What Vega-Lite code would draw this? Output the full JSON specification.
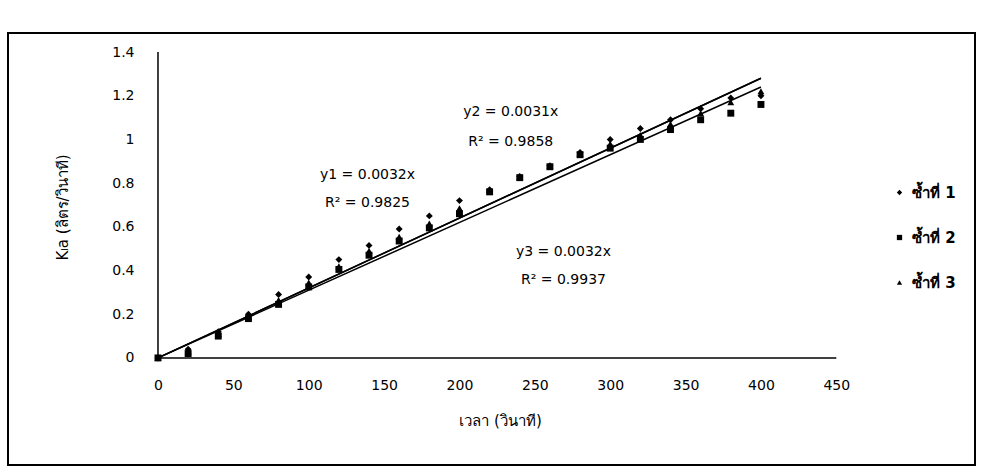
{
  "$schema": "https://vega.github.io/schema/vega-lite/v6.json",
  "width": 981,
  "height": 471,
  "autosize": {"type": "fit", "contains": "padding"},
  "padding": {"left": 8, "right": 6, "top": 33, "bottom": 6},
  "background": "white",
  "config": {
    "view": {"stroke": "black", "strokeWidth": 2},
    "font": "DejaVu Sans"
  },
  "datasets": {
    "points": [
      {"t": 0, "v": 0, "rep": "ซ้ำที่ 1"}, {"t": 20, "v": 0.04, "rep": "ซ้ำที่ 1"}, {"t": 40, "v": 0.12, "rep": "ซ้ำที่ 1"},
      {"t": 60, "v": 0.20, "rep": "ซ้ำที่ 1"}, {"t": 80, "v": 0.29, "rep": "ซ้ำที่ 1"}, {"t": 100, "v": 0.37, "rep": "ซ้ำที่ 1"},
      {"t": 120, "v": 0.45, "rep": "ซ้ำที่ 1"}, {"t": 140, "v": 0.515, "rep": "ซ้ำที่ 1"}, {"t": 160, "v": 0.59, "rep": "ซ้ำที่ 1"},
      {"t": 180, "v": 0.65, "rep": "ซ้ำที่ 1"}, {"t": 200, "v": 0.72, "rep": "ซ้ำที่ 1"}, {"t": 220, "v": 0.77, "rep": "ซ้ำที่ 1"},
      {"t": 240, "v": 0.83, "rep": "ซ้ำที่ 1"}, {"t": 260, "v": 0.88, "rep": "ซ้ำที่ 1"}, {"t": 280, "v": 0.94, "rep": "ซ้ำที่ 1"},
      {"t": 300, "v": 1.0, "rep": "ซ้ำที่ 1"}, {"t": 320, "v": 1.05, "rep": "ซ้ำที่ 1"}, {"t": 340, "v": 1.09, "rep": "ซ้ำที่ 1"},
      {"t": 360, "v": 1.14, "rep": "ซ้ำที่ 1"}, {"t": 380, "v": 1.19, "rep": "ซ้ำที่ 1"}, {"t": 400, "v": 1.20, "rep": "ซ้ำที่ 1"},
      {"t": 0, "v": 0, "rep": "ซ้ำที่ 2"}, {"t": 20, "v": 0.02, "rep": "ซ้ำที่ 2"}, {"t": 40, "v": 0.10, "rep": "ซ้ำที่ 2"},
      {"t": 60, "v": 0.18, "rep": "ซ้ำที่ 2"}, {"t": 80, "v": 0.245, "rep": "ซ้ำที่ 2"}, {"t": 100, "v": 0.325, "rep": "ซ้ำที่ 2"},
      {"t": 120, "v": 0.405, "rep": "ซ้ำที่ 2"}, {"t": 140, "v": 0.47, "rep": "ซ้ำที่ 2"}, {"t": 160, "v": 0.535, "rep": "ซ้ำที่ 2"},
      {"t": 180, "v": 0.595, "rep": "ซ้ำที่ 2"}, {"t": 200, "v": 0.66, "rep": "ซ้ำที่ 2"}, {"t": 220, "v": 0.76, "rep": "ซ้ำที่ 2"},
      {"t": 240, "v": 0.825, "rep": "ซ้ำที่ 2"}, {"t": 260, "v": 0.875, "rep": "ซ้ำที่ 2"}, {"t": 280, "v": 0.93, "rep": "ซ้ำที่ 2"},
      {"t": 300, "v": 0.96, "rep": "ซ้ำที่ 2"}, {"t": 320, "v": 1.0, "rep": "ซ้ำที่ 2"}, {"t": 340, "v": 1.045, "rep": "ซ้ำที่ 2"},
      {"t": 360, "v": 1.09, "rep": "ซ้ำที่ 2"}, {"t": 380, "v": 1.12, "rep": "ซ้ำที่ 2"}, {"t": 400, "v": 1.16, "rep": "ซ้ำที่ 2"},
      {"t": 0, "v": 0, "rep": "ซ้ำที่ 3"}, {"t": 20, "v": 0.03, "rep": "ซ้ำที่ 3"}, {"t": 40, "v": 0.11, "rep": "ซ้ำที่ 3"},
      {"t": 60, "v": 0.19, "rep": "ซ้ำที่ 3"}, {"t": 80, "v": 0.265, "rep": "ซ้ำที่ 3"}, {"t": 100, "v": 0.345, "rep": "ซ้ำที่ 3"},
      {"t": 120, "v": 0.42, "rep": "ซ้ำที่ 3"}, {"t": 140, "v": 0.49, "rep": "ซ้ำที่ 3"}, {"t": 160, "v": 0.555, "rep": "ซ้ำที่ 3"},
      {"t": 180, "v": 0.615, "rep": "ซ้ำที่ 3"}, {"t": 200, "v": 0.685, "rep": "ซ้ำที่ 3"}, {"t": 220, "v": 0.77, "rep": "ซ้ำที่ 3"},
      {"t": 240, "v": 0.83, "rep": "ซ้ำที่ 3"}, {"t": 260, "v": 0.88, "rep": "ซ้ำที่ 3"}, {"t": 280, "v": 0.935, "rep": "ซ้ำที่ 3"},
      {"t": 300, "v": 0.98, "rep": "ซ้ำที่ 3"}, {"t": 320, "v": 1.02, "rep": "ซ้ำที่ 3"}, {"t": 340, "v": 1.07, "rep": "ซ้ำที่ 3"},
      {"t": 360, "v": 1.12, "rep": "ซ้ำที่ 3"}, {"t": 380, "v": 1.17, "rep": "ซ้ำที่ 3"}, {"t": 400, "v": 1.22, "rep": "ซ้ำที่ 3"}
    ],
    "trend": [
      {"fit": "y1", "t": 0, "v": 0}, {"fit": "y1", "t": 400, "v": 1.28},
      {"fit": "y2", "t": 0, "v": 0}, {"fit": "y2", "t": 400, "v": 1.24},
      {"fit": "y3", "t": 0, "v": 0}, {"fit": "y3", "t": 400, "v": 1.28}
    ],
    "axes": [
      {"t0": 0, "v0": 0, "t1": 450, "v1": 0},
      {"t0": 0, "v0": 0, "t1": 0, "v1": 1.4}
    ],
    "notes": [
      {"t": 139, "v": 0.839, "label": "y1 = 0.0032x"},
      {"t": 139, "v": 0.711, "label": "R² = 0.9825"},
      {"t": 234, "v": 1.124, "label": "y2 = 0.0031x"},
      {"t": 234, "v": 0.986, "label": "R² = 0.9858"},
      {"t": 269, "v": 0.486, "label": "y3 = 0.0032x"},
      {"t": 269, "v": 0.358, "label": "R² = 0.9937"}
    ]
  },
  "layer": [
    {
      "data": {"name": "trend"},
      "mark": {"type": "line", "color": "black", "strokeWidth": 1.5},
      "encoding": {
        "x": {
          "field": "t", "type": "quantitative",
          "scale": {"domain": [-99.5, 542], "nice": false, "zero": false},
          "axis": {
            "orient": "bottom", "offset": -90, "domain": false, "ticks": false, "grid": false,
            "values": [0, 50, 100, 150, 200, 250, 300, 350, 400, 450],
            "labelFontSize": 14, "labelColor": "black", "labelPadding": 3, "labelFont": "DejaVu Sans",
            "title": "เวลา (วินาที)", "titleFontSize": 15, "titleFontWeight": "normal", "titleColor": "black",
            "titleX": 492, "titleY": 45, "titleBaseline": "middle", "titleAlign": "center"
          }
        },
        "y": {
          "field": "v", "type": "quantitative",
          "scale": {"domain": [-0.49, 1.487], "nice": false, "zero": false},
          "axis": {
            "orient": "left", "offset": -129, "domain": false, "ticks": false, "grid": false,
            "values": [0, 0.2, 0.4, 0.6, 0.8, 1, 1.2, 1.4], "format": ".1~f",
            "labelFontSize": 14, "labelColor": "black", "labelPadding": 3, "labelFont": "DejaVu Sans",
            "title": "Kₗa (ลิตร/วินาที)", "titleFontSize": 15, "titleFontWeight": "normal", "titleColor": "black",
            "titleAngle": -90, "titleX": -75, "titleY": 174, "titleBaseline": "middle", "titleAlign": "center"
          }
        },
        "detail": {"field": "fit"}
      }
    },
    {
      "data": {"name": "axes"},
      "mark": {"type": "rule", "color": "black", "strokeWidth": 1.5},
      "encoding": {
        "x": {"field": "t0", "type": "quantitative"},
        "y": {"field": "v0", "type": "quantitative"},
        "x2": {"field": "t1"},
        "y2": {"field": "v1"}
      }
    },
    {
      "data": {"name": "points"},
      "mark": {"type": "point", "filled": true, "opacity": 1, "size": 48},
      "encoding": {
        "x": {"field": "t", "type": "quantitative"},
        "y": {"field": "v", "type": "quantitative"},
        "shape": {
          "field": "rep", "type": "nominal",
          "scale": {"domain": ["ซ้ำที่ 1", "ซ้ำที่ 2", "ซ้ำที่ 3"], "range": ["diamond", "square", "triangle-up"]},
          "legend": {
            "title": null, "orient": "none", "legendX": 884, "legendY": 152, "padding": 0,
            "labelFontSize": 15, "labelFontWeight": "bold", "labelColor": "black",
            "symbolSize": 28, "symbolFillColor": "black", "symbolStrokeWidth": 0, "symbolType": "circle",
            "rowPadding": 29, "labelOffset": 5
          }
        },
        "color": {"value": "black"}
      }
    },
    {
      "data": {"name": "notes"},
      "mark": {"type": "text", "fontSize": 14, "color": "black", "align": "center", "baseline": "middle", "font": "DejaVu Sans"},
      "encoding": {
        "x": {"field": "t", "type": "quantitative"},
        "y": {"field": "v", "type": "quantitative"},
        "text": {"field": "label"}
      }
    }
  ]
}
